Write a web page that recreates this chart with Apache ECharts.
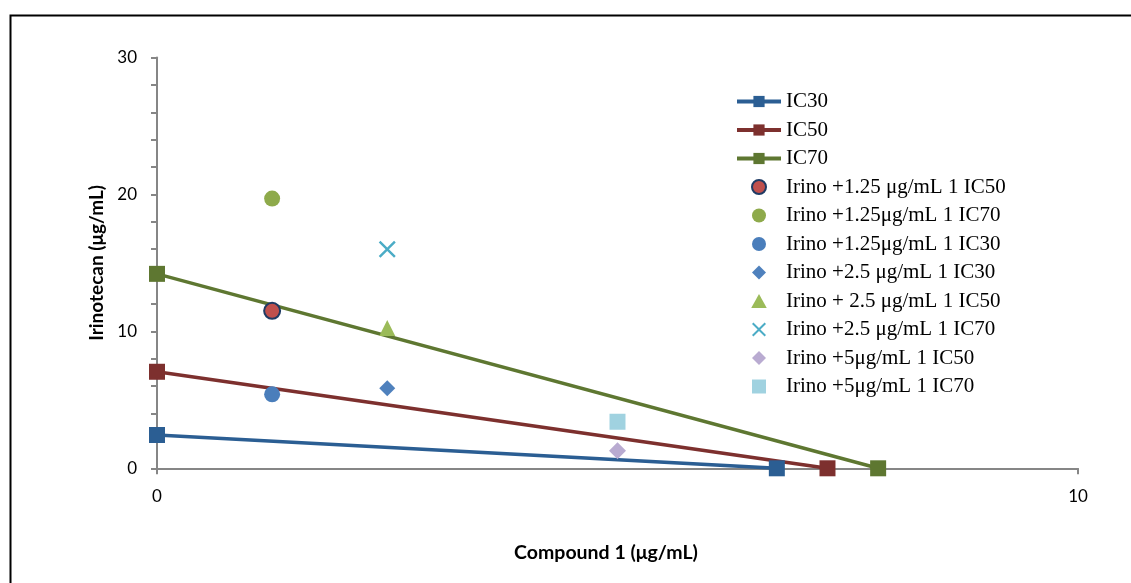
<!DOCTYPE html>
<html>
<head>
<meta charset="utf-8">
<script src="https://cdn.jsdelivr.net/npm/echarts@6/dist/echarts.min.js"></script>
<style>
html,body{margin:0;padding:0;background:#fff;}
#c{width:1131px;height:583px;}
</style>
</head>
<body>
<div id="c"></div>
<script>
// ---- data ----
const xTickLabels = ['0', '10'];
const yTickLabels = ['0', '10', '20', '30'];
const ic30 = [[0, 2.43], [6.73, 0]];
const ic50 = [[0, 7.05], [7.28, 0]];
const ic70 = [[0, 14.2], [7.83, 0]];
const irino125_IC50 = [[1.25, 11.5]];
const irino125_IC70 = [[1.25, 19.7]];
const irino125_IC30 = [[1.25, 5.4]];
const irino25_IC30 = [[2.5, 5.85]];
const irino25_IC50 = [[2.5, 10.25]];
const irino25_IC70 = [[2.5, 16.0]];
const irino5_IC50 = [[5, 1.28]];
const irino5_IC70 = [[5, 3.4]];

const names = [
  'IC30', 'IC50', 'IC70',
  'Irino +1.25 μg/mL 1 IC50',
  'Irino +1.25μg/mL 1 IC70',
  'Irino +1.25μg/mL 1 IC30',
  'Irino +2.5 μg/mL 1 IC30',
  'Irino + 2.5 μg/mL 1 IC50',
  'Irino +2.5 μg/mL 1 IC70',
  'Irino +5μg/mL 1 IC50',
  'Irino +5μg/mL 1 IC70'
];

const xPath = 'path://M1,0L5,4L9,0L10,1L6,5L10,9L9,10L5,6L1,10L0,9L4,5L0,1Z';
const diamondPath = 'path://M5,0L10,5L5,10L0,5Z';
const trianglePath = 'path://M5,0L10,9L0,9Z';
const squarePath = 'path://M0,0L10,0L10,10L0,10Z';

function lineSeries(name, data, color) {
  return {
    name: name, type: 'line', data: data,
    symbol: 'rect', symbolSize: 16, showSymbol: true,
    lineStyle: {color: color, width: 3.5},
    itemStyle: {color: color},
    z: 2, animation: false
  };
}
function scatterSeries(name, data, symbol, size, itemStyle) {
  itemStyle.opacity = 1;
  return {
    name: name, type: 'scatter', data: data,
    symbol: symbol, symbolSize: size, symbolKeepAspect: true,
    itemStyle: itemStyle, z: 3, animation: false
  };
}

const legendIcons = {};
legendIcons[names[6]] = diamondPath;
legendIcons[names[7]] = trianglePath;
legendIcons[names[9]] = diamondPath;
legendIcons[names[10]] = squarePath;
const legendData = names.map(function (n) {
  return legendIcons[n] ? {name: n, icon: legendIcons[n]} : {name: n};
});

const axisGray = '#868686';
const chart = echarts.init(document.getElementById('c'));
chart.setOption({
  animation: false,
  backgroundColor: '#fff',
  graphic: [{
    type: 'rect', left: 8, top: 13, silent: true,
    shape: {x: 0, y: 0, width: 1300, height: 800},
    style: {fill: 'none', stroke: '#000', lineWidth: 2}
  }],
  grid: {left: 157, right: 53, top: 57.5, bottom: 114.7, containLabel: false},
  xAxis: {
    type: 'value', min: 0, max: 10, interval: 10,
    name: 'Compound 1 (μg/mL)', nameLocation: 'middle', nameGap: 74,
    nameTextStyle: {fontFamily: 'Lato', fontWeight: 'bold', fontSize: 19.5, color: '#000', padding: [0, 23, 0, 0]},
    axisLine: {show: true, lineStyle: {color: axisGray, width: 2}},
    axisTick: {show: true, inside: false, length: 6, lineStyle: {color: axisGray, width: 2}},
    axisLabel: {fontFamily: 'Lato', fontSize: 17, color: '#000', margin: 20,
      formatter: function (v) { return xTickLabels[Math.round(v / 10)]; }},
    splitLine: {show: false}
  },
  yAxis: {
    type: 'value', min: 0, max: 30, interval: 10,
    name: 'Irinotecan (μg/mL)', nameLocation: 'middle', nameGap: 45, nameRotate: 90,
    nameTextStyle: {fontFamily: 'Lato', fontWeight: 'bold', fontSize: 19, color: '#000'},
    axisLine: {show: true, lineStyle: {color: axisGray, width: 2}},
    axisTick: {show: true, inside: false, length: 6, lineStyle: {color: axisGray, width: 2}},
    minorTick: {show: true, splitNumber: 5, length: 6, lineStyle: {color: axisGray, width: 2}},
    axisLabel: {fontFamily: 'Lato', fontSize: 17, color: '#000', margin: 20,
      formatter: function (v) { return yTickLabels[Math.round(v / 10)]; }},
    splitLine: {show: false}
  },
  legend: {
    orient: 'vertical', left: 730, top: 86,
    itemWidth: 44, itemHeight: 14, itemGap: 7.5,
    symbolKeepAspect: true,
    lineStyle: {width: 4},
    textStyle: {fontFamily: 'Liberation Serif', fontSize: 21, lineHeight: 21, color: '#000'},
    data: legendData
  },
  series: [
    lineSeries(names[0], ic30, '#2B5E93'),
    lineSeries(names[1], ic50, '#7D302E'),
    lineSeries(names[2], ic70, '#5E7731'),
    scatterSeries(names[3], irino125_IC50, 'circle', 16, {color: '#C0504D', borderColor: '#1F3B64', borderWidth: 2}),
    scatterSeries(names[4], irino125_IC70, 'circle', 16, {color: '#8EAA4B'}),
    scatterSeries(names[5], irino125_IC30, 'circle', 16, {color: '#4A7EBB'}),
    scatterSeries(names[6], irino25_IC30, 'diamond', 16, {color: '#4F81BD'}),
    scatterSeries(names[7], irino25_IC50, 'triangle', 16, {color: '#9BBB59'}),
    scatterSeries(names[8], irino25_IC70, xPath, 17, {color: '#4BACC6'}),
    scatterSeries(names[9], irino5_IC50, 'diamond', 17, {color: '#B9ABD1'}),
    scatterSeries(names[10], irino5_IC70, 'rect', 16, {color: '#A0D2E0'})
  ]
});
</script>
</body>
</html>
